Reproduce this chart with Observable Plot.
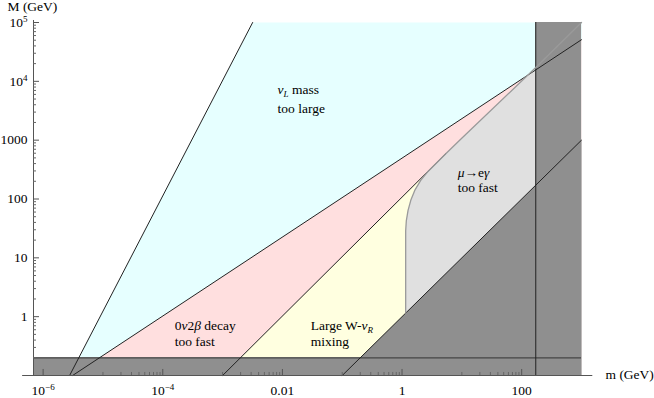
<!DOCTYPE html>
<html><head><meta charset="utf-8">
<script src="https://cdn.jsdelivr.net/npm/d3@7"></script>
<script src="https://cdn.jsdelivr.net/npm/@observablehq/plot@0.6"></script>
<style>
html,body{margin:0;padding:0;background:#fff;}
#chart svg{display:block;}
#chart svg, #chart svg text, #chart svg tspan{font-family:"Liberation Serif","Times New Roman",serif !important;}
</style></head><body><div id="chart"></div>
<script>
// ---- axis ticks ----
const mTickValues = [1e-6, 1e-4, 0.01, 1, 100];
const mTickLabels = ["10^-6", "10^-4", "0.01", "1", "100"];
const MTickValues = [1, 10, 100, 1000, 1e4, 1e5];
const MTickLabels = ["1", "10", "100", "1000", "10^4", "10^5"];
const mDomain = [6.9e-7, 1000];
const MDomain = [0.1, 1e5];

// ---- boundary lines, points [m, M] in GeV ----
const nuMassLine   = [[2.77e-6, 0.1], [3.18e-3, 1e5]];
const bbDecayLine  = [[3.11e-6, 0.1], [1000, 5.1e4]];
const mixingLine   = [[1.0e-3, 0.1], [5.38, 589]];
const diagonalLine = [[0.1, 0.1], [1000, 1000]];
const muegCurve = [[1.15, 1.15], [1.15, 29], [1.18, 43], [1.26, 64], [1.40, 95], [1.63, 140],
  [2.05, 207], [2.66, 287], [3.66, 398], [5.38, 589], [9.95, 1075], [172, 17200], [1000, 1e5]];
const topMass = 172;
const lowerM = 0.2;

// ---- region labels ----
const labelM = [8.3e-3, 8.3e-3, 1.58e-4, 1.58e-4, 0.0297, 0.0297, 8.5, 8.5];
const labelMM = [7310, 3475, 0.71, 0.38, 0.71, 0.38, 283, 157];
const labelText = ["νL mass", "too large", "0ν2β decay", "too fast", "Large W-νR", "mixing", "μ→eγ", "too fast"];
const regionLabels = labelText.map((t, i) => ({m: labelM[i], M: labelMM[i], text: t}));

// rich text segments
const rich = {
  "10^-6": [{t: "10"}, {t: "−6", s: "sup"}],
  "10^-4": [{t: "10"}, {t: "−4", s: "sup"}],
  "10^4": [{t: "10"}, {t: "4", s: "sup"}],
  "10^5": [{t: "10"}, {t: "5", s: "sup"}],
  "νL mass": [{t: "ν", i: 1}, {t: "L", i: 1, s: "sub"}, {t: " mass"}],
  "0ν2β decay": [{t: "0"}, {t: "ν", i: 1}, {t: "2"}, {t: "β", i: 1}, {t: " decay"}],
  "Large W-νR": [{t: "Large W-"}, {t: "ν", i: 1}, {t: "R", i: 1, s: "sub"}],
  "μ→eγ": [{t: "μ", i: 1}, {t: "→e"}, {t: "γ", i: 1}]
};

// ---- filled regions (built from the boundary data) ----
const xMax = mDomain[1], yMin = MDomain[0], yMax = MDomain[1];
const pinkPoly = [bbDecayLine[0], bbDecayLine[1], [xMax, yMin]];
const yellowPoly = [mixingLine[0], mixingLine[1], [mixingLine[1][0], yMin]];
const grayPoly = [...muegCurve, [xMax, yMin], [muegCurve[0][0], yMin]];
const cyanPoly = [nuMassLine[0], nuMassLine[1], [xMax, yMax], bbDecayLine[1], bbDecayLine[0]];
const darkPoly = [diagonalLine[0], diagonalLine[1], [xMax, yMin]];
const darkRects = [{x1: topMass, x2: xMax, y1: yMin, y2: yMax}, {x1: mDomain[0], x2: xMax, y1: yMin, y2: lowerM}];

const pxX = 59.8, pxY = 58.8; // px per decade (for tick lengths)
const minorM = [];
for (const k of [-5, -3, -1, 1]) for (let j = 1; j <= 9; j++) minorM.push(j * 10 ** k);
const minorMM = [];
for (let k = -1; k <= 4; k++) for (let j = 2; j <= 9; j++) minorMM.push(j * 10 ** k);

const FF = "'Liberation Serif', 'Times New Roman', serif";
const poly = (data, fill) => Plot.line(data, {x: d => d[0], y: d => d[1], fill, stroke: "none"});
const ln = (data, stroke, w) => Plot.line(data, {x: d => d[0], y: d => d[1], stroke, strokeWidth: w});

const chart = Plot.plot({
  width: 654, height: 398,
  marginTop: 22, marginBottom: 23, marginLeft: 33, marginRight: 73,
  x: {type: "log", domain: mDomain, axis: null},
  y: {type: "log", domain: MDomain, axis: null},
  style: {fontFamily: FF, fontSize: "13.5px", color: "#000", background: "#fff", overflow: "visible"},
  marks: [
    poly(pinkPoly, "#ffdfdf"),
    poly(yellowPoly, "#ffffe0"),
    poly(grayPoly, "#e0e0e0"),
    poly(cyanPoly, "#e6ffff"),
    poly(darkPoly, "#8f8f8f"),
    Plot.rect(darkRects, {x1: "x1", x2: "x2", y1: "y1", y2: "y2", fill: "#8f8f8f"}),
    Plot.ruleY([lowerM], {stroke: "#444", strokeWidth: 1.2}),
    Plot.ruleX([topMass], {stroke: "#222", strokeWidth: 1}),
    ln(nuMassLine, "#222", 1),
    ln(bbDecayLine, "#222", 1),
    ln(mixingLine, "#222", 1),
    ln(diagonalLine, "#222", 1),
    ln(muegCurve, "#9a9a9a", 1.3),
    // axes
    Plot.ruleY([{y: yMin, a: 4.54e-7, b: 1545}], {y: "y", x1: "a", x2: "b", stroke: "#555", strokeWidth: 1}),
    Plot.ruleX([mDomain[0]], {y1: yMin, y2: yMax * 10 ** (2 / pxY), stroke: "#555", strokeWidth: 1}),
    Plot.ruleX(mTickValues, {x: d => d, y1: yMin, y2: yMin * 10 ** (6 / pxY), stroke: "#555"}),
    Plot.ruleX(minorM, {x: d => d, y1: yMin, y2: yMin * 10 ** (3 / pxY), stroke: "#666"}),
    Plot.ruleY(MTickValues, {y: d => d, x1: mDomain[0], x2: mDomain[0] * 10 ** (6 / pxX), stroke: "#555"}),
    Plot.ruleY(minorMM, {y: d => d, x1: mDomain[0], x2: mDomain[0] * 10 ** (3 / pxX), stroke: "#666"}),
    Plot.text(mTickValues, {x: d => d, text: (d, i) => mTickLabels[i], frameAnchor: "bottom", dy: 15, lineAnchor: "middle", textAnchor: "middle", fontFamily: FF}),
    Plot.text(MTickValues, {y: d => d, text: (d, i) => MTickLabels[i], frameAnchor: "left", dx: -6, lineAnchor: "middle", textAnchor: "end", fontFamily: FF}),
    Plot.text(["M (GeV)"], {text: d => d, frameAnchor: "top-left", dx: -26, dy: -16, textAnchor: "start", lineAnchor: "middle", fontFamily: FF}),
    Plot.text(["m (GeV)"], {text: d => d, frameAnchor: "bottom-right", dx: 24, dy: -1, textAnchor: "start", lineAnchor: "middle", fontFamily: FF}),
    Plot.text(regionLabels, {x: "m", y: "M", text: "text", textAnchor: "start", lineAnchor: "middle", fontFamily: FF})
  ]
});
document.getElementById("chart").appendChild(chart);

// rich text post-processing (italics, sub/superscripts)
d3.select(chart).selectAll("text").each(function () {
  const segs = rich[this.textContent];
  if (!segs) return;
  const el = d3.select(this);
  el.text(null);
  let shift = 0;
  for (const seg of segs) {
    const target = seg.s === "sub" ? 3 : seg.s === "sup" ? -5 : 0;
    const ts = el.append("tspan").text(seg.t);
    if (target - shift !== 0) ts.attr("dy", target - shift);
    shift = target;
    if (seg.i) ts.attr("font-style", "italic");
    if (seg.s) ts.attr("font-size", "9px");
  }
});
</script></body></html>
